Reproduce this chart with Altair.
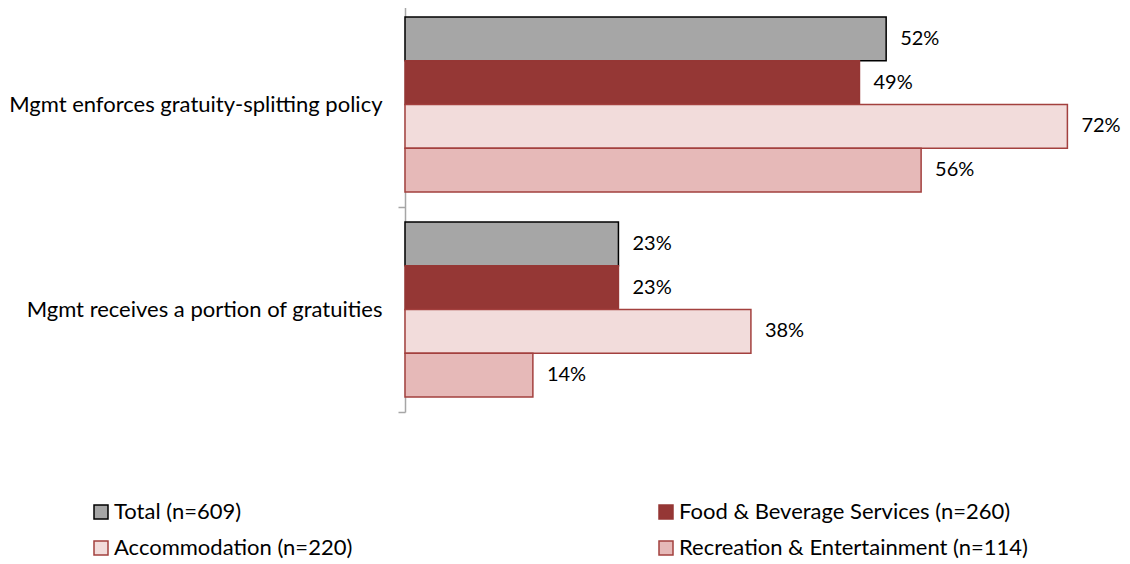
import altair as alt
import pandas as pd

categories = [
    "Mgmt enforces gratuity-splitting policy",
    "Mgmt receives a portion of gratuities",
]
series = [
    "Total (n=609)",
    "Food & Beverage Services (n=260)",
    "Accommodation (n=220)",
    "Recreation & Entertainment (n=114)",
]
total_vals = [0.523, 0.232]
food_vals = [0.494, 0.232]
accom_vals = [0.72, 0.376]
recr_vals = [0.561, 0.139]

fills = ["#A6A6A6", "#953735", "#F2DCDB", "#E6B9B8"]
strokes = ["#000000", "#953735", "#A3403E", "#A3403E"]

rows = []
for s, vals in zip(series, [total_vals, food_vals, accom_vals, recr_vals]):
    for c, v in zip(categories, vals):
        rows.append({"category": c, "series": s, "value": v})
df = pd.DataFrame(rows)

FONT = "Lato"

legend = alt.Legend(
    title=None,
    orient="none",
    direction="horizontal",
    legendX=-315,
    legendY=499,
    columns=2,
    gridAlign="all",
    columnPadding=192,
    rowPadding=14,
    symbolType="square",
    symbolSize=196,
    symbolStrokeWidth=1.5,
    labelFont=FONT,
    labelFontSize=22,
    labelColor="#000000",
    labelOffset=2,
    labelLimit=600,
)

base = alt.Chart(df).encode(
    y=alt.Y(
        "category:N",
        sort=categories,
        scale=alt.Scale(paddingInner=0, paddingOuter=0),
        axis=alt.Axis(
            title=None,
            tickBand="extent",
            tickSize=7,
            tickColor="#A6A6A6",
            tickWidth=1.5,
            domainColor="#A6A6A6",
            domainWidth=1.5,
            labelFont=FONT,
            labelFontSize=22,
            labelColor="#000000",
            labelPadding=16,
            labelLimit=600,
        ),
    ),
    yOffset=alt.YOffset(
        "series:N",
        sort=series,
        scale=alt.Scale(paddingInner=0, paddingOuter=0.34),
    ),
    x=alt.X("value:Q", scale=alt.Scale(domain=[0, 0.750]), axis=None),
)

bars = base.mark_bar(strokeWidth=1.5).encode(
    fill=alt.Fill("series:N", sort=series, scale=alt.Scale(domain=series, range=fills), legend=legend),
    stroke=alt.Stroke("series:N", sort=series, scale=alt.Scale(domain=series, range=strokes), legend=legend),
)

labels = base.mark_text(align="left", baseline="middle", dx=14, font=FONT, fontSize=20, color="#000000").encode(
    text=alt.Text("value:Q", format=".0%"),
)

chart = (
    (bars + labels)
    .properties(
        width=690,
        height=410,
        autosize=alt.AutoSizeParams(type="none"),
        padding={"left": 397, "top": -6, "right": 27, "bottom": 152},
    )
    .configure_view(stroke=None)
)

chart.save("out.html", embed_options={"renderer": "svg", "actions": False})
